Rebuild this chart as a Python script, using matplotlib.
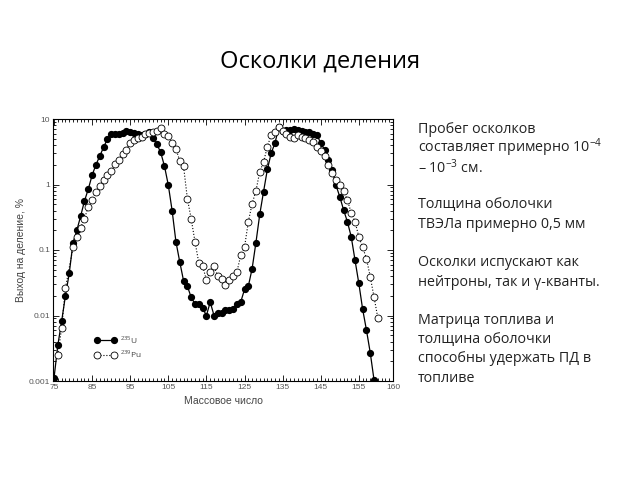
import numpy as np
import matplotlib
matplotlib.use('Agg')
import matplotlib.pyplot as plt
from matplotlib.ticker import MultipleLocator, LogLocator, NullFormatter
from matplotlib.lines import Line2D

plt.rcParams['font.family'] = ['Open Sans', 'DejaVu Sans']
plt.rcParams['mathtext.fontset'] = 'custom'
plt.rcParams['mathtext.rm'] = 'Open Sans'

# U-235 (filled circles, solid line)
u_mass = list(range(75, 160))
u_yield = [0.0011, 0.0035, 0.0081, 0.020, 0.044, 0.13, 0.20, 0.33, 0.56, 0.85,
           1.38, 2.0, 2.7, 3.7, 4.9, 5.9, 5.8, 6.0, 6.2, 6.5,
           6.4, 6.2, 5.8, 5.6, 5.9, 6.3, 5.2, 4.1, 3.1, 1.9,
           0.98, 0.40, 0.134, 0.066, 0.034, 0.028, 0.019, 0.015, 0.015, 0.013,
           0.010, 0.016, 0.010, 0.011, 0.011, 0.012, 0.012, 0.0125, 0.015, 0.016,
           0.025, 0.028, 0.052, 0.13, 0.35, 0.78, 1.7, 3.0, 4.3, 7.5,
           6.5, 6.9, 6.9, 7.0, 6.8, 6.6, 6.4, 6.3, 6.0, 5.7,
           4.3, 3.4, 2.4, 1.66, 0.98, 0.65, 0.41, 0.27, 0.16, 0.070,
           0.031, 0.0125, 0.006, 0.0027, 0.00103]

# Pu-239 (open circles, dotted line)
pu_mass = [76, 77, 78] + list(range(80, 161))
pu_yield = [0.0025, 0.0064, 0.026,
            0.11, 0.16, 0.22, 0.30, 0.46, 0.59, 0.78, 0.95, 1.17, 1.38,
            1.6, 2.05, 2.4, 2.9, 3.4, 4.3, 4.8, 5.2, 5.4, 6.0,
            6.2, 6.4, 6.6, 7.2, 5.9, 5.5, 4.3, 3.5, 2.3, 1.9,
            0.61, 0.30, 0.134, 0.064, 0.057, 0.035, 0.046, 0.056, 0.040, 0.036,
            0.029, 0.035, 0.040, 0.046, 0.083, 0.11, 0.27, 0.51, 0.80, 1.57,
            2.2, 3.8, 5.7, 6.4, 7.6, 6.5, 5.8, 5.4, 5.1, 5.7,
            5.4, 5.1, 4.8, 4.5, 3.8, 3.2, 2.7, 2.0, 1.5, 1.17,
            0.98, 0.80, 0.58, 0.37, 0.27, 0.16, 0.11, 0.074, 0.039, 0.019,
            0.0091]

x_ticks = [75, 85, 95, 105, 115, 125, 135, 145, 155, 163.97]
x_labels = ['75', '85', '95', '105', '115', '125', '135', '145', '155', '160']
y_ticks = [0.001, 0.01, 0.1, 1, 10]
y_labels = ['0.001', '0.01', '0.1', '1', '10']

title = 'Осколки деления'
side_lines = [
    ('Пробег осколков', 130),
    (r'составляет примерно 10$^{\mathregular{-4}}$', 148),
    (r'– 10$^{\mathregular{-3}}$ см.', 168),
    ('Толщина оболочки', 205),
    ('ТВЭЛа примерно 0,5 мм', 225),
    ('Осколки испускают как', 263),
    ('нейтроны, так и γ-кванты.', 282),
    ('Матрица топлива и', 321),
    ('толщина оболочки', 340),
    ('способны удержать ПД в', 359),
    ('топливе', 378),
]

fig = plt.figure(figsize=(6.4, 4.8), dpi=100)
ax = fig.add_axes([53 / 640, 1 - 381 / 480, 340 / 640, 262 / 480])

ax.plot(u_mass, u_yield, '-', color='black', lw=0.9,
        marker='o', ms=4.2, mfc='black', mec='black')
ax.plot(pu_mass, pu_yield, ':', color='black', lw=0.8,
        marker='o', ms=5, mfc='white', mec='black', mew=0.6)

ax.set_yscale('log')
ax.set_xlim(74.74, 163.97)
ax.set_ylim(0.001, 10)
ax.set_xticks(x_ticks)
ax.set_xticklabels(x_labels)
ax.set_yticks(y_ticks)
ax.set_yticklabels(y_labels)
ax.xaxis.set_minor_locator(MultipleLocator(1))
ax.yaxis.set_minor_locator(LogLocator(base=10, subs=np.arange(2, 10)))
ax.yaxis.set_minor_formatter(NullFormatter())
ax.tick_params(which='both', direction='in', top=True, right=True,
               labelsize=6, labelcolor='#555555', width=0.6, pad=2)
ax.tick_params(which='major', length=4)
ax.tick_params(which='minor', length=2)
for s in ax.spines.values():
    s.set_linewidth(0.8)

ax.set_xlabel('Массовое число', fontsize=7.5, color='#444444', labelpad=4,
              family=['Liberation Sans', 'DejaVu Sans'])
ax.set_ylabel('Выход на деление, %', fontsize=7.5, color='#444444', labelpad=2,
              family=['Liberation Sans', 'DejaVu Sans'])
for lab in ax.get_xticklabels() + ax.get_yticklabels():
    lab.set_family(['Liberation Sans', 'DejaVu Sans'])

handles = [Line2D([], [], color='black', lw=0.9, marker='o', ms=4.2,
                  mfc='black', mec='black'),
           Line2D([], [], color='black', lw=0.8, ls=':', marker='o', ms=5,
                  mfc='white', mec='black', mew=0.6)]
ax.legend(handles, ['$^{235}$U', '$^{239}$Pu'], loc='lower left',
          bbox_to_anchor=(0.1, 0.05), frameon=False, numpoints=2,
          fontsize=6, handlelength=2.6, labelspacing=0.3, handletextpad=0.4,
          labelcolor='#444444')

fig.text(0.5, 1 - 62 / 480, title, ha='center', va='center', fontsize=17)
for line, ypx in side_lines:
    fig.text(418 / 640, 1 - ypx / 480, line, ha='left', va='center',
             fontsize=10.3, color='#222222')

fig.savefig('out.png', dpi=100)
